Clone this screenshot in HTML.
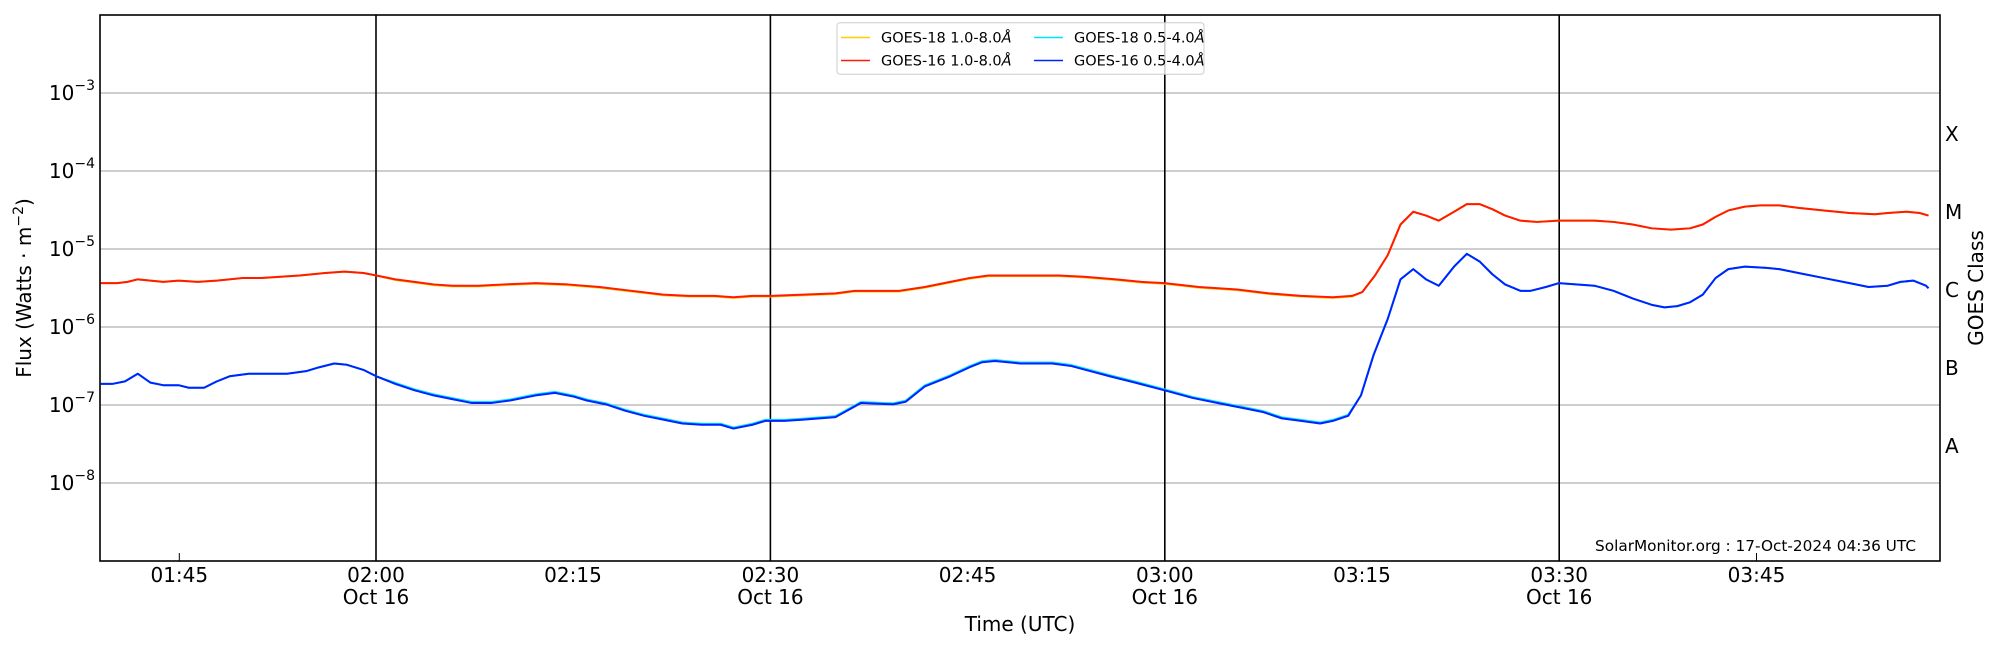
<!DOCTYPE html>
<html><head><meta charset="utf-8"><style>
html,body{margin:0;padding:0;background:#fff;}
svg{display:block;font-family:"DejaVu Sans","Liberation Sans",sans-serif;}
</style></head><body>
<svg width="2000" height="650" viewBox="0 0 2000 650" xmlns="http://www.w3.org/2000/svg">
<rect width="2000" height="650" fill="#fff"/>
<g stroke="#b0b0b0" stroke-width="1.3">
<line x1="100" x2="1940" y1="93" y2="93"/>
<line x1="100" x2="1940" y1="171" y2="171"/>
<line x1="100" x2="1940" y1="249" y2="249"/>
<line x1="100" x2="1940" y1="327" y2="327"/>
<line x1="100" x2="1940" y1="405" y2="405"/>
<line x1="100" x2="1940" y1="483" y2="483"/>
</g>
<g stroke="#000" stroke-width="1.6">
<line x1="376" x2="376" y1="15" y2="561"/>
<line x1="770.4" x2="770.4" y1="15" y2="561"/>
<line x1="1164.8" x2="1164.8" y1="15" y2="561"/>
<line x1="1559.2" x2="1559.2" y1="15" y2="561"/>
<line x1="179.3" x2="179.3" y1="561" y2="553" stroke-width="1"/>
<line x1="1756.5" x2="1756.5" y1="561" y2="553" stroke-width="1"/>
</g>
<g id="ticks" stroke="#000" stroke-width="1"></g>
<g transform="scale(1.2755)" fill="none" stroke-width="2" stroke-linejoin="round">
<polyline id="yel" vector-effect="non-scaling-stroke" stroke="#ffcc00"/>
<polyline id="red" vector-effect="non-scaling-stroke" stroke="#ff1a00"/>
<polyline id="cya" vector-effect="non-scaling-stroke" stroke="#00e5ff"/>
<polyline id="blu" vector-effect="non-scaling-stroke" stroke="#0022ff"/>
</g>
<rect x="100" y="15" width="1840" height="546" fill="none" stroke="#000" stroke-width="1.6"/>
<g font-size="20" text-anchor="end" fill="#000">
<text x="95" y="100">10<tspan dy="-10" font-size="14">−3</tspan></text>
<text x="95" y="178">10<tspan dy="-10" font-size="14">−4</tspan></text>
<text x="95" y="256">10<tspan dy="-10" font-size="14">−5</tspan></text>
<text x="95" y="334">10<tspan dy="-10" font-size="14">−6</tspan></text>
<text x="95" y="412">10<tspan dy="-10" font-size="14">−7</tspan></text>
<text x="95" y="490">10<tspan dy="-10" font-size="14">−8</tspan></text>
</g>
<g font-size="20" fill="#000">
<text x="1945" y="141">X</text>
<text x="1945" y="219">M</text>
<text x="1945" y="297">C</text>
<text x="1945" y="375">B</text>
<text x="1945" y="453">A</text>
</g>
<text transform="translate(1983,288) rotate(-90)" font-size="20" text-anchor="middle">GOES Class</text>
<text transform="translate(31,288) rotate(-90)" font-size="20" text-anchor="middle">Flux (Watts · m<tspan dy="-8" font-size="14">−2</tspan><tspan dy="8">)</tspan></text>
<g font-size="20" text-anchor="middle">
<text x="179.3" y="582">01:45</text>
<text x="376" y="582">02:00</text><text x="376" y="604">Oct 16</text>
<text x="573" y="582">02:15</text>
<text x="770.4" y="582">02:30</text><text x="770.4" y="604">Oct 16</text>
<text x="967.6" y="582">02:45</text>
<text x="1164.8" y="582">03:00</text><text x="1164.8" y="604">Oct 16</text>
<text x="1362" y="582">03:15</text>
<text x="1559.2" y="582">03:30</text><text x="1559.2" y="604">Oct 16</text>
<text x="1756.5" y="582">03:45</text>
<text x="1020" y="631">Time (UTC)</text>
</g>
<text x="1916" y="551" font-size="15.3" text-anchor="end">SolarMonitor.org : 17-Oct-2024 04:36 UTC</text>
<rect x="837" y="22.7" width="367" height="51.5" rx="3" fill="#fff" fill-opacity="0.8" stroke="#ccc" stroke-width="1"/>
<g stroke-width="1.6">
<line x1="841" x2="870" y1="37.5" y2="37.5" stroke="#ffcc00"/>
<line x1="841" x2="870" y1="60.5" y2="60.5" stroke="#ff1a00"/>
<line x1="1034" x2="1063" y1="37.5" y2="37.5" stroke="#00e5ff"/>
<line x1="1034" x2="1063" y1="60.5" y2="60.5" stroke="#0022ff"/>
</g>
<g font-size="14.5">
<text x="881" y="42.5">GOES-18 1.0-8.0<tspan font-style="italic">Å</tspan></text>
<text x="881" y="65.5">GOES-16 1.0-8.0<tspan font-style="italic">Å</tspan></text>
<text x="1074" y="42.5">GOES-18 0.5-4.0<tspan font-style="italic">Å</tspan></text>
<text x="1074" y="65.5">GOES-16 0.5-4.0<tspan font-style="italic">Å</tspan></text>
</g>
<script>
var red=[[79,222],[92,222],[100,221],[108,219],[118,220],[128,221],[140,220],[155,221],[170,220],[190,218],[205,218],[220,217],[235,216],[255,214],[270,213],[285,214],[295,216],[310,219],[325,221],[340,223],[355,224],[375,224],[395,223],[420,222],[445,223],[470,225],[495,228],[520,231],[540,232],[560,232],[575,233],[590,232],[605,232],[630,231],[655,230],[670,228],[680,228],[705,228],[725,225],[745,221],[760,218],[775,216],[800,216],[830,216],[850,217],[875,219],[895,221],[913,222],[940,225],[970,227],[995,230],[1020,232],[1045,233],[1060,232],[1068,229],[1078,216],[1088,200],[1098,176],[1108,166],[1118,169],[1128,173],[1140,166],[1150,160],[1160,160],[1170,164],[1180,169],[1192,173],[1205,174],[1222,173],[1250,173],[1265,174],[1280,176],[1295,179],[1310,180],[1325,179],[1335,176],[1345,170],[1355,165],[1368,162],[1380,161],[1395,161],[1410,163],[1430,165],[1450,167],[1470,168],[1480,167],[1495,166],[1505,167],[1512,169]];
var blu=[[79,301],[88,301],[98,299],[108,293],[118,300],[128,302],[140,302],[148,304],[160,304],[170,299],[180,295],[195,293],[210,293],[225,293],[240,291],[250,288],[262,285],[272,286],[285,290],[295,295],[310,301],[325,306],[340,310],[355,313],[370,316],[385,316],[400,314],[415,311],[420,310],[435,308],[450,311],[460,314],[475,317],[490,322],[505,326],[520,329],[535,332],[550,333],[565,333],[575,336],[590,333],[600,330],[615,330],[630,329],[655,327],[675,316],[700,317],[710,315],[725,303],[745,295],[760,288],[770,284],[780,283],[800,285],[825,285],[840,287],[855,291],[870,295],[890,300],[913,306],[935,312],[960,317],[975,320],[990,323],[1005,328],[1020,330],[1035,332],[1045,330],[1057,326],[1067,310],[1077,278],[1088,250],[1098,219],[1108,211],[1118,219],[1128,224],[1140,209],[1150,199],[1160,205],[1170,215],[1180,223],[1192,228],[1200,228],[1212,225],[1222,222],[1250,224],[1265,228],[1280,234],[1295,239],[1305,241],[1315,240],[1325,237],[1335,231],[1345,218],[1355,211],[1368,209],[1385,210],[1395,211],[1410,214],[1430,218],[1450,222],[1465,225],[1480,224],[1490,221],[1500,220],[1510,224],[1512,226]];
function s(a,d){return a.map(function(p){var o=(d&&p[0]>300&&p[0]<1062)?d:0;return p[0]+','+(p[1]+o)}).join(' ');}
document.getElementById('red').setAttribute('points',s(red));
document.getElementById('yel').setAttribute('points',s(red,0.5));
document.getElementById('cya').setAttribute('points',s(blu,-0.8));
document.getElementById('blu').setAttribute('points',s(blu));
var g=document.getElementById('ticks'),h='';
for(var k=2;k<9;k++){var y0=15+(k-2)*78;
 for(var m=1;m<10;m++){var y=(m==1)?y0+78:y0+78-78*Math.log10(m);
  var L=(m==1)?10:5;
  if(y<15||y>561)continue;
  h+='<line x1="100" x2="'+(100+L)+'" y1="'+y+'" y2="'+y+'"/>';
  h+='<line x1="1940" x2="'+(1940-L)+'" y1="'+y+'" y2="'+y+'"/>';
 }}
g.innerHTML=h;
</script>
</svg>
</body></html>
